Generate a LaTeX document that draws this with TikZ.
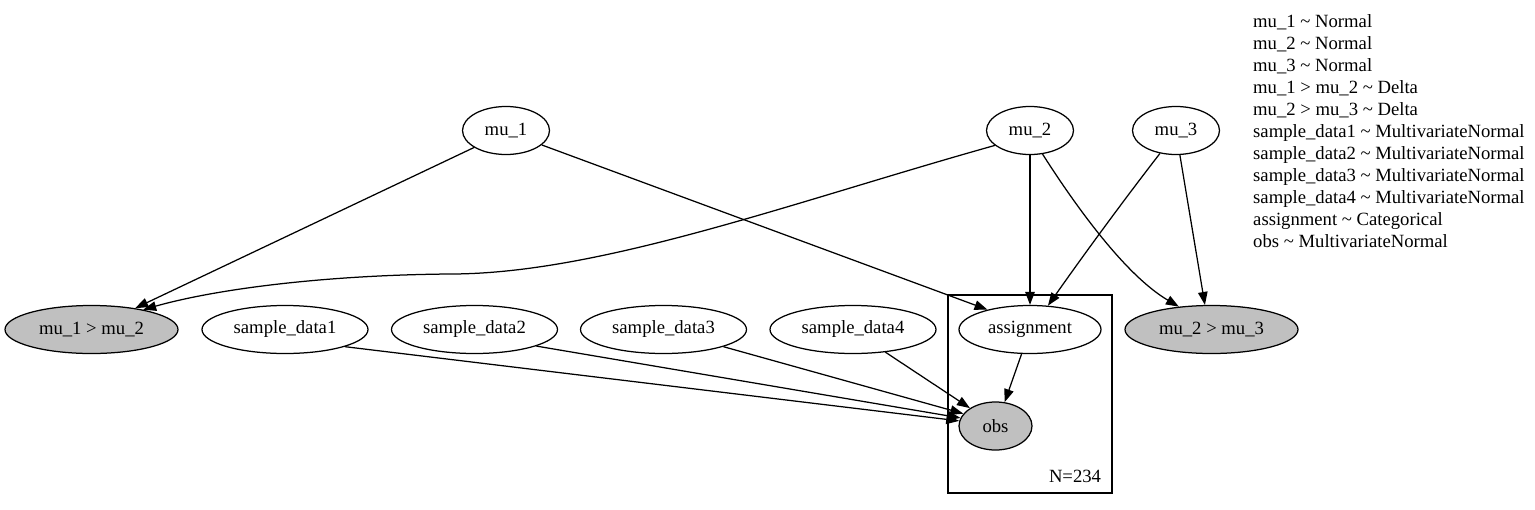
\documentclass[tikz,border=0pt]{standalone}
\usepackage{fontspec}
\setmainfont{Liberation Serif}
\usetikzlibrary{arrows.meta,shapes.geometric}
\definecolor{obsgray}{HTML}{C0C0C0}
\newcommand{\nodeht}{48pt}

\begin{document}
\begin{tikzpicture}[x=1pt,y=-1pt,
  font=\fontsize{18.67}{22.4}\selectfont,
  rv/.style={draw, ellipse, line width=1.25pt, inner sep=0pt, minimum height=\nodeht},
  obsrv/.style={rv, fill=obsgray},
  edge/.style={line width=1.25pt, -{Triangle[length=13pt,width=9.5pt]}}]

\useasboundingbox (0,0) rectangle (1535,509);

% top row
\node (mu1) at (506,130.5) [rv, minimum width=87pt] {mu\_1};
\node (mu2) at (1030,130.5) [rv, minimum width=87pt] {mu\_2};
\node (mu3) at (1176,130.5) [rv, minimum width=87pt] {mu\_3};

% second row
\node (gt12) at (91.5,329.5) [obsrv, minimum width=173pt] {mu\_1 > mu\_2};
\node (sd1) at (285,329.5) [rv, minimum width=166pt] {sample\_data1};
\node (sd2) at (474.5,329.5) [rv, minimum width=166pt] {sample\_data2};
\node (sd3) at (663.5,329.5) [rv, minimum width=166pt] {sample\_data3};
\node (sd4) at (853,329.5) [rv, minimum width=166pt] {sample\_data4};
\node (asg) at (1030,329.5) [rv, minimum width=142pt] {assignment};
\node (gt23) at (1211.5,329.5) [obsrv, minimum width=173pt] {mu\_2 > mu\_3};

\node (obs) at (995.5,426) [obsrv, minimum width=73pt] {obs};

% plate
\draw[line width=1.25pt] (948,295) rectangle (1112,493);
\node (plateN) at (1075,476) {N=234};

\draw[edge] (mu1.208) -- (gt12.26);
\draw[edge] (mu1.338) -- (asg.155);
\draw[edge] (mu2.203) .. controls (793,202) and (600,274) .. (450,274)
  .. controls (330,275) and (220,288) .. (gt12.21);
\draw[edge] (mu2.270) -- (asg.90);
\draw[edge] (mu2.298) .. controls (1075,205) and (1125,275) .. (gt23.145);
\draw[edge] (mu3.235) .. controls (1120,205) and (1080,260) .. (asg.53);
\draw[edge] (mu3.279) -- (gt23.105);
\draw[edge] (sd1.344) -- (obs.172);
\draw[edge] (sd2.345) -- (obs.167);
\draw[edge] (sd3.344) -- (obs.159);
\draw[edge] (sd4.325) -- (obs.145);
\draw[edge] (asg.251) -- (obs.69);

% legend
\foreach \txt [count=\i] in {mu\_1 \textasciitilde{} Normal, mu\_2 \textasciitilde{} Normal,
    mu\_3 \textasciitilde{} Normal, mu\_1 > mu\_2 \textasciitilde{} Delta,
    mu\_2 > mu\_3 \textasciitilde{} Delta,
    sample\_data1 \textasciitilde{} MultivariateNormal,
    sample\_data2 \textasciitilde{} MultivariateNormal,
    sample\_data3 \textasciitilde{} MultivariateNormal,
    sample\_data4 \textasciitilde{} MultivariateNormal,
    assignment \textasciitilde{} Categorical, obs \textasciitilde{} MultivariateNormal}
  \node (leg\i) at (1253,{27.5+22*(\i-1)}) [anchor=base west, inner sep=0pt] {\txt};

\end{tikzpicture}
\end{document}
